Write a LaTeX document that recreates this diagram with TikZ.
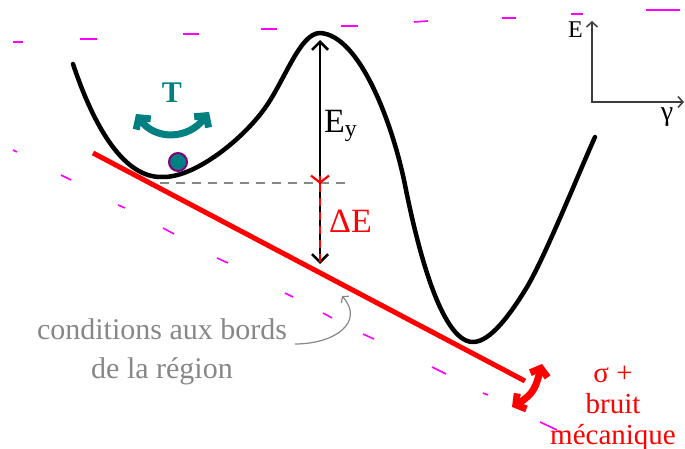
\documentclass[tikz,border=0pt]{standalone}
\usepackage{fontspec}
\setmainfont{Liberation Serif}
\usetikzlibrary{arrows.meta}

\definecolor{tealT}{RGB}{0,128,128}
\definecolor{purpT}{RGB}{128,0,128}
\definecolor{pinkT}{RGB}{255,0,255}
\definecolor{greyT}{RGB}{135,135,135}
\definecolor{axisT}{RGB}{60,60,60}

\begin{document}
\begin{tikzpicture}[x=1pt, y=-1pt, >={Straight Barb[length=8pt,width=16pt]},
  pinkdash/.style={pinkT, line width=1.6pt},
  bigtxt/.style={inner sep=0pt, font=\fontsize{34}{40}\selectfont},
  redtxt/.style={inner sep=0pt, text=red, align=center, font=\fontsize{29}{31}\selectfont}]
  \useasboundingbox (0,0) rectangle (685,449);

  % magenta marks (two rows)
  \foreach \xa/\ya/\xb/\yb in {13/42/23/42, 80/39/97/39, 183/34/199/34, 261/29/277/29,
      341/26/358/26, 414/22/428/21, 502/18/516/18, 571/14/583/14, 646/10/680/10,
      13/150/17/152, 61/175/71/180, 118/205/125/208, 163/228/174/234, 217/258/228/263,
      285/293/293/297, 323/313/332/318, 363/334/374/339, 432/367/446/374,
      483/393/488/395, 540/422/557/430}
    \draw[pinkdash] (\xa,\ya) -- (\xb,\yb);

  % potential
  \coordinate (well-a) at (162,177);
  \coordinate (barrier) at (320,33);
  \coordinate (well-b) at (473,342);
  \draw[line width=4.5pt, line cap=round, line join=round]
    (73,64) .. controls (95,130) and (125,178) .. (well-a)
    .. controls (195,178) and (243,139) .. (265,108)
    .. controls (285,80) and (300,33) .. (barrier)
    .. controls (360,35) and (393,125) .. (405,185)
    .. controls (416,240) and (440,342) .. (well-b)
    .. controls (490,342) and (510,315) .. (527,287)
    .. controls (545,257) and (580,170) .. (595,137);

  % boundary of the region
  \coordinate (bd-a) at (93,153);
  \coordinate (bd-b) at (525,381);
  \draw[red, line width=5pt] (bd-a) -- (bd-b);

  % level of the well
  \coordinate (lvl-a) at (160,183);
  \coordinate (lvl-b) at (350,183);
  \draw[greyT, line width=2.5pt, dash pattern=on 9pt off 7pt] (lvl-a) -- (lvl-b);

  % E_y
  \coordinate (ey-top) at (320,40);
  \coordinate (ey-bot) at (320,264);
  \draw[line width=2.6pt, <->] (ey-bot) -- (ey-top);
  \node[bigtxt, anchor=base west] (ey) at (324,133) {E\textsubscript{y}};

  % Delta E
  \coordinate (de-top) at (320,184);
  \coordinate (de-bot) at (320,262);
  \draw[red, line width=2.4pt, dash pattern=on 8pt off 6pt] (de-bot) -- ([yshift=8pt]de-top);
  \draw[red, line width=2.2pt, {Straight Barb[length=7pt,width=18pt]}-] (de-top) -- ([yshift=8pt]de-top);
  \node[bigtxt, text=red, anchor=base west] (de) at (329,232) {ΔE};

  % temperature
  \coordinate (t-l) at (136,114);
  \coordinate (t-r) at (209,112);
  \draw[tealT, line width=7pt, {Straight Barb[length=8pt,width=18pt]}-{Straight Barb[length=8pt,width=18pt]}]
    (t-l) .. controls (155,140) and (188,140) .. (t-r);
  \node[inner sep=0pt, text=tealT, font=\fontsize{30}{34}\selectfont\bfseries] (temp) at (172,93) {T};
  \node[circle, fill=tealT, draw=purpT, line width=2pt, minimum size=18pt, inner sep=0pt] (ball) at (178,162) {};

  % axes
  \coordinate (orig) at (592,102);
  \coordinate (ax-e) at (592,21);
  \coordinate (ax-g) at (684,102);
  \draw[axisT, line width=1.5pt, {Straight Barb[length=5pt,width=11pt]}-{Straight Barb[length=5pt,width=11pt]}]
    (ax-e) -- (orig) -- (ax-g);
  \node[inner sep=0pt, anchor=base east, font=\fontsize{24}{28}\selectfont] (lab-e) at (583,38) {E};
  \node[inner sep=0pt, anchor=base, font=\fontsize{28}{32}\selectfont] (lab-g) at (667,121) {γ};

  % boundary conditions
  \node[inner sep=0pt, text=greyT, align=center, font=\fontsize{30}{39}\selectfont] (cond) at (162,352)
    {conditions aux bords\\de la région};
  \coordinate (cond-tail) at (295,344);
  \coordinate (bd-pt) at (342,296);
  \draw[greyT, line width=1.2pt, -{Straight Barb[length=4pt,width=10pt]}]
    (cond-tail) .. controls (335,344) and (365,322) .. (bd-pt);

  % stress + noise
  \coordinate (n-a) at (542,364);
  \coordinate (n-b) at (512,407);
  \draw[red, line width=7pt, {Straight Barb[length=7pt,width=18pt]}-{Straight Barb[length=7pt,width=18pt]}]
    (n-a) .. controls (536,386) and (534,394) .. (n-b);
  \node[redtxt] (noise) at (613,408) {σ +\\bruit\\mécanique};
\end{tikzpicture}
\end{document}
